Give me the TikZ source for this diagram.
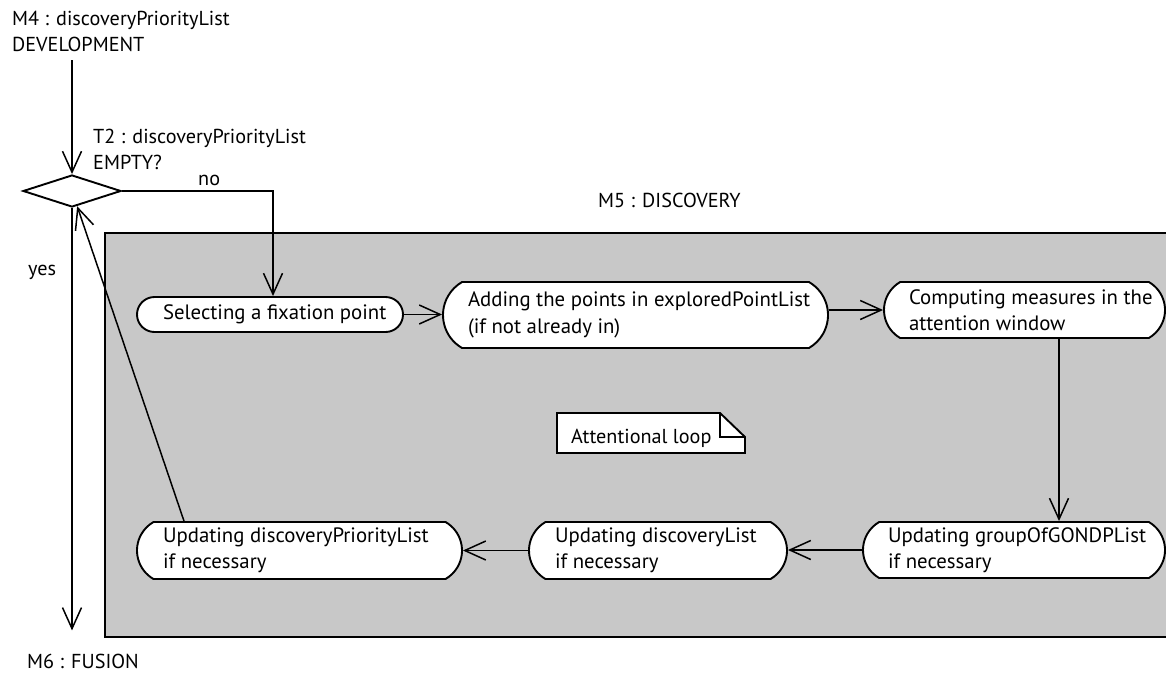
\documentclass[tikz,border=0pt]{standalone}
\usepackage{fontspec}
\setmainfont{PT Sans}
\usetikzlibrary{shapes.misc,shapes.geometric,arrows.meta}
\definecolor{panelgray}{RGB}{200,200,200}
\newcommand{\lbx}[2]{\makebox[#1][l]{#2}}
\begin{document}
\begin{tikzpicture}[x=1pt,y=-1pt,
  txt/.style={font=\fontsize{20.2}{26.5}\selectfont, inner sep=0pt, align=left},
  act/.style={rounded rectangle, rounded rectangle arc length=120, draw, line width=1.9pt,
    fill=white, inner sep=0pt, align=left, font=\fontsize{20.8}{26.5}\selectfont},
  arr/.style={line width=1.5pt, -{Straight Barb[length=21pt,width=19pt]}},
  decision/.style={diamond, draw, line width=1.9pt, fill=white, inner sep=0pt,
    minimum width=98pt, minimum height=32pt}]
\useasboundingbox (0,0) rectangle (1166,672);
\clip (0,0) rectangle (1166,672);
% panel
\draw[line width=1.9pt, fill=panelgray] (105,233) rectangle (1180,637);
\node[txt, anchor=base west] (m5) at (598,207) {M5 : DISCOVERY};
% texts
\node[txt, anchor=north west] (m4) at (12,10.5) {M4 : discoveryPriorityList\\DEVELOPMENT};
\node[txt, anchor=north west] (t2) at (93,128.5) {T2 : discoveryPriorityList\\EMPTY?};
\node[txt, anchor=base west] (no) at (198,185) {no};
\node[txt, anchor=base west] (yes) at (28,275) {yes};
\node[txt, anchor=base west] (m6) at (27,668) {M6 : FUSION};
% decision
\node[decision] (d) at (72,191) {};
% activities
\node[act, rounded rectangle arc length=180, minimum width=266pt, minimum height=35pt] (b1) at (270,314.5)
  {\lbx{214pt}{Selecting a fixation point}};
\node[act, minimum width=385pt, minimum height=66pt] (b2) at (635.5,315)
  {\lbx{335pt}{Adding the points in exploredPointList}\\(if not already in)};
\node[act, minimum width=281pt, minimum height=56pt] (b3) at (1024.5,310)
  {\lbx{231pt}{Computing measures in the}\\attention window};
\node[act, minimum width=302pt, minimum height=56pt] (b6) at (1014,550)
  {\lbx{252pt}{Updating groupOfGONDPList}\\if necessary};
\node[act, minimum width=258pt, minimum height=57pt] (b5) at (658,550.5)
  {\lbx{206pt}{Updating discoveryList}\\if necessary};
\node[act, minimum width=325pt, minimum height=57pt] (b4) at (299.5,550.5)
  {\lbx{273pt}{Updating discoveryPriorityList}\\if necessary};
% note
\draw[line width=1.9pt, fill=white] (557,413) -- (720,413) -- (745,437) -- (745,453) -- (557,453) -- cycle;
\draw[line width=1.9pt] (720,413) -- (720,437) -- (745,437);
\node[txt, anchor=base west] (note) at (571,443) {Attentional loop};
% connectors
\draw[arr] ([yshift=-8pt]m4.south -| d.north) -- (d.north);
\draw[arr] (d.east) -| ([xshift=3pt]b1.north);
\draw[arr] (d.south) -- ([yshift=23pt]d.south |- m6.north);
\draw[arr] (b1.east) -- (b1.east -| b2.west);
\draw[arr] (b2.east |- b3.west) -- (b3.west);
\draw[arr] ([xshift=34.5pt]b3.south) -- ([xshift=34.5pt]b3.south |- b6.north);
\draw[arr] (b6.west) -- (b6.west -| b5.east);
\draw[arr] (b5.west) -- (b5.west -| b4.east);
\coordinate (r0) at ([xshift=-115.5pt]b4.north);
\draw[arr] (r0) -- (d);
\end{tikzpicture}
\end{document}
